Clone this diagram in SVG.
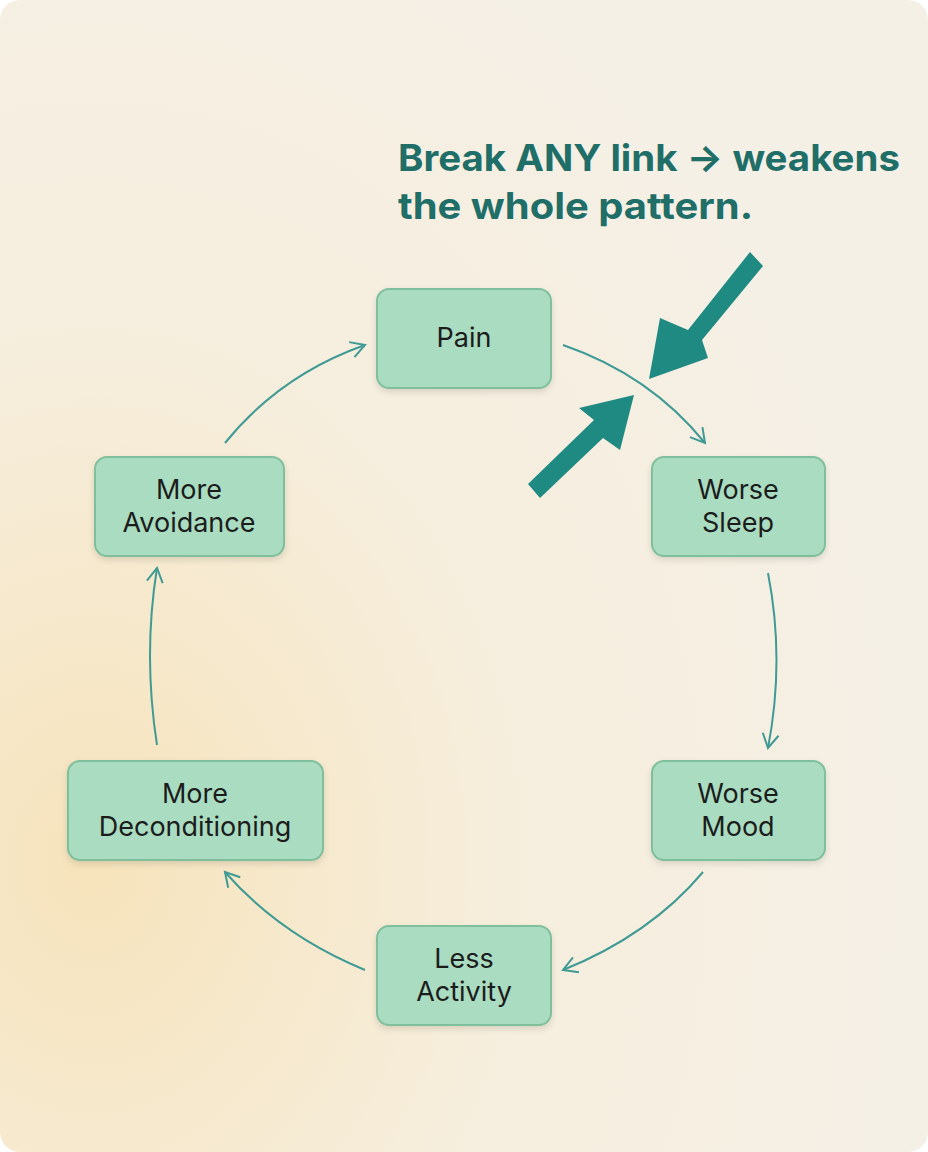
<svg xmlns="http://www.w3.org/2000/svg" width="928" height="1152" viewBox="0 0 928 1152">
<defs>
<radialGradient id="bg" cx="0.1" cy="0.75" r="0.9">
<stop offset="0" stop-color="#f6e3bb"/>
<stop offset="0.5" stop-color="#f6eedd"/>
<stop offset="1" stop-color="#f5f0e6"/>
</radialGradient>
<marker id="chev" viewBox="0 0 20 20" refX="16" refY="10" markerWidth="20" markerHeight="20" markerUnits="userSpaceOnUse" orient="auto">
<path d="M2,2 L16,10 L2,18" fill="none" stroke="#3f9a94" stroke-width="2"/>
</marker>
<filter id="sh" x="-10%" y="-10%" width="120%" height="130%"><feDropShadow dx="0" dy="3" stdDeviation="3" flood-color="#000" flood-opacity="0.12"/></filter>
</defs>
<style>
.n{fill:#a9dcc1;stroke:#80bf9c;stroke-width:2;filter:url(#sh)}
.t{font-family:Inter,"Liberation Sans",sans-serif;font-size:27px;fill:#1c1c1c;text-anchor:middle}
.c{fill:none;stroke:#3f9a94;stroke-width:2;marker-end:url(#chev)}
.h{font-family:Inter,"Liberation Sans",sans-serif;font-size:37px;font-weight:bold;fill:#1f6e68}
</style>
<rect width="928" height="1152" rx="20" fill="url(#bg)"/>
<text class="h" x="398" y="171" textLength="502" lengthAdjust="spacingAndGlyphs">Break ANY link → weakens</text>
<text class="h" x="398" y="219" textLength="355" lengthAdjust="spacingAndGlyphs">the whole pattern.</text>
<g id="connectors">
<path class="c" d="M563,345 Q650,375 705,443"/>
<path class="c" d="M768,573 Q785,660 768,748"/>
<path class="c" d="M703,872 Q650,935 563,970"/>
<path class="c" d="M365,970 Q280,935 225,872"/>
<path class="c" d="M157,745 Q143,655 157,568"/>
<path class="c" d="M225,443 Q280,375 365,345"/>
</g>
<g id="break-arrows" fill="#1e8a82">
<path d="M750,252 L763,266 L702,340 L708,358 L649,379 L660,318 L688,330 Z"/>
<path d="M528,484 L540,498 L603,438 L620,450 L634,395 L579,408 L594,420 Z"/>
</g>
<g id="pain"><rect class="n" x="377" y="289" width="174" height="99" rx="12"/><text class="t" x="464" y="347">Pain</text></g>
<g id="sleep"><rect class="n" x="652" y="457" width="173" height="99" rx="12"/><text class="t" x="738" y="499">Worse</text><text class="t" x="738" y="532">Sleep</text></g>
<g id="mood"><rect class="n" x="652" y="761" width="173" height="99" rx="12"/><text class="t" x="738" y="803">Worse</text><text class="t" x="738" y="836">Mood</text></g>
<g id="activity"><rect class="n" x="377" y="926" width="174" height="99" rx="12"/><text class="t" x="464" y="968">Less</text><text class="t" x="464" y="1001">Activity</text></g>
<g id="decond"><rect class="n" x="68" y="761" width="255" height="99" rx="12"/><text class="t" x="195" y="803">More</text><text class="t" x="195" y="836">Deconditioning</text></g>
<g id="avoid"><rect class="n" x="95" y="457" width="189" height="99" rx="12"/><text class="t" x="189" y="499">More</text><text class="t" x="189" y="532">Avoidance</text></g>
</svg>
